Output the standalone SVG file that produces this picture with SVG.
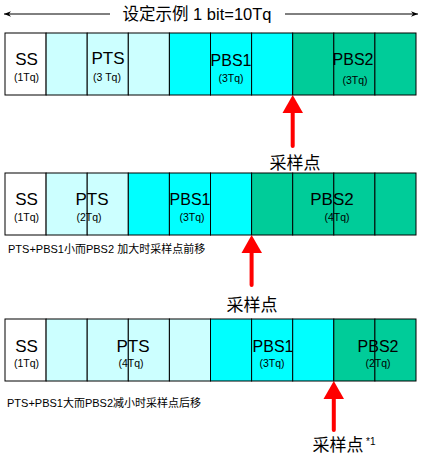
<svg xmlns="http://www.w3.org/2000/svg" width="421" height="457" viewBox="0 0 421 457">
<defs>
<style>
text{font-family:"Liberation Sans","Noto Sans CJK SC",sans-serif;fill:#000}
.lbl{font-size:17px;text-anchor:middle}
.pb{font-size:16px;text-anchor:middle}
.tq{font-size:10.5px;text-anchor:middle}
.note{font-size:11px}
.cn{font-size:17px;text-anchor:middle}
.c{stroke:#000;stroke-width:1}
.w{fill:#fff}.l{fill:#ccffff}.y{fill:#00ffff}.g{fill:#00cc99}
.red{stroke:#ff0000;stroke-width:4;stroke-linecap:round;fill:none}
.rh{fill:#ff0000}
</style>
<marker id="ah" viewBox="0 0 10 10" refX="10" refY="5" markerWidth="9" markerHeight="7" markerUnits="userSpaceOnUse" orient="auto">
<path d="M0,1 L10,5 L0,9 L3,5 Z" fill="#000"/>
</marker>
</defs>
<g id="title">
<line x1="110" y1="14" x2="4" y2="14" stroke="#000" stroke-width="1" marker-end="url(#ah)"/>
<line x1="285" y1="14" x2="418" y2="14" stroke="#000" stroke-width="1" marker-end="url(#ah)"/>
<text x="197" y="20" font-size="16.5" text-anchor="middle">设定示例 1 bit=10Tq</text>
</g>
<g id="row1">
<rect class="c w" x="5" y="33" width="41.1" height="62"/>
<rect class="c l" x="46.1" y="33" width="41.1" height="62"/>
<rect class="c l" x="87.2" y="33" width="41.1" height="62"/>
<rect class="c l" x="128.3" y="33" width="41.1" height="62"/>
<rect class="c y" x="169.4" y="33" width="41.1" height="62"/>
<rect class="c y" x="210.5" y="33" width="41.1" height="62"/>
<rect class="c y" x="251.6" y="33" width="41.1" height="62"/>
<rect class="c g" x="292.7" y="33" width="41.1" height="62"/>
<rect class="c g" x="333.8" y="33" width="41.1" height="62"/>
<rect class="c g" x="374.9" y="33" width="41.1" height="62"/>
<text class="lbl" x="26.5" y="65">SS</text>
<text class="tq" x="26.5" y="81">(1Tq)</text>
<text class="lbl" x="108" y="64">PTS</text>
<text class="tq" x="107" y="81">(3 Tq)</text>
<text class="pb" x="231" y="66">PBS1</text>
<text class="tq" x="231" y="82">(3Tq)</text>
<text class="pb" x="353" y="65">PBS2</text>
<text class="tq" x="355" y="84">(3Tq)</text>
</g>
<g id="row2">
<rect class="c w" x="5" y="173" width="41.1" height="62"/>
<rect class="c l" x="46.1" y="173" width="41.1" height="62"/>
<rect class="c l" x="87.2" y="173" width="41.1" height="62"/>
<rect class="c y" x="128.3" y="173" width="41.1" height="62"/>
<rect class="c y" x="169.4" y="173" width="41.1" height="62"/>
<rect class="c y" x="210.5" y="173" width="41.1" height="62"/>
<rect class="c g" x="251.6" y="173" width="41.1" height="62"/>
<rect class="c g" x="292.7" y="173" width="41.1" height="62"/>
<rect class="c g" x="333.8" y="173" width="41.1" height="62"/>
<rect class="c g" x="374.9" y="173" width="41.1" height="62"/>
<text class="lbl" x="26.5" y="205">SS</text>
<text class="tq" x="26.5" y="221">(1Tq)</text>
<text class="lbl" x="92" y="205">PTS</text>
<text class="tq" x="89" y="221">(2Tq)</text>
<text class="pb" x="190" y="205">PBS1</text>
<text class="tq" x="192" y="221">(3Tq)</text>
<text class="lbl" x="332" y="205">PBS2</text>
<text class="tq" x="337" y="221">(4Tq)</text>
</g>
<g id="row3">
<rect class="c w" x="5" y="319" width="41.1" height="62"/>
<rect class="c l" x="46.1" y="319" width="41.1" height="62"/>
<rect class="c l" x="87.2" y="319" width="41.1" height="62"/>
<rect class="c l" x="128.3" y="319" width="41.1" height="62"/>
<rect class="c l" x="169.4" y="319" width="41.1" height="62"/>
<rect class="c y" x="210.5" y="319" width="41.1" height="62"/>
<rect class="c y" x="251.6" y="319" width="41.1" height="62"/>
<rect class="c y" x="292.7" y="319" width="41.1" height="62"/>
<rect class="c g" x="333.8" y="319" width="41.1" height="62"/>
<rect class="c g" x="374.9" y="319" width="41.1" height="62"/>
<text class="lbl" x="26.5" y="352">SS</text>
<text class="tq" x="26.5" y="367">(1Tq)</text>
<text class="lbl" x="133" y="352">PTS</text>
<text class="tq" x="131" y="367">(4Tq)</text>
<text class="pb" x="273" y="352">PBS1</text>
<text class="tq" x="272" y="367">(3Tq)</text>
<text class="pb" x="378" y="352">PBS2</text>
<text class="tq" x="378" y="367">(2Tq)</text>
</g>
<g id="notes">
<text class="note" x="8" y="253">PTS+PBS1小而PBS2 加大时采样点前移</text>
<text class="note" x="7" y="407">PTS+PBS1大而PBS2减小时采样点后移</text>
</g>
<g id="connectors">
<line class="red" x1="292.7" y1="110" x2="292.7" y2="146"/>
<polygon class="rh" points="292.7,95 303,113 282.5,113"/>
<line class="red" x1="251.6" y1="250" x2="251.6" y2="285"/>
<polygon class="rh" points="251.6,235 262,253 241.5,253"/>
<line class="red" x1="333.8" y1="396" x2="333.8" y2="430"/>
<polygon class="rh" points="333.8,381 344,399 323.5,399"/>
</g>
<g id="sample-labels">
<text class="cn" x="295" y="169">采样点</text>
<text class="cn" x="252" y="311">采样点</text>
<text class="cn" x="338" y="451">采样点</text>
<text x="366" y="445" font-size="10">*1</text>
</g>
</svg>
